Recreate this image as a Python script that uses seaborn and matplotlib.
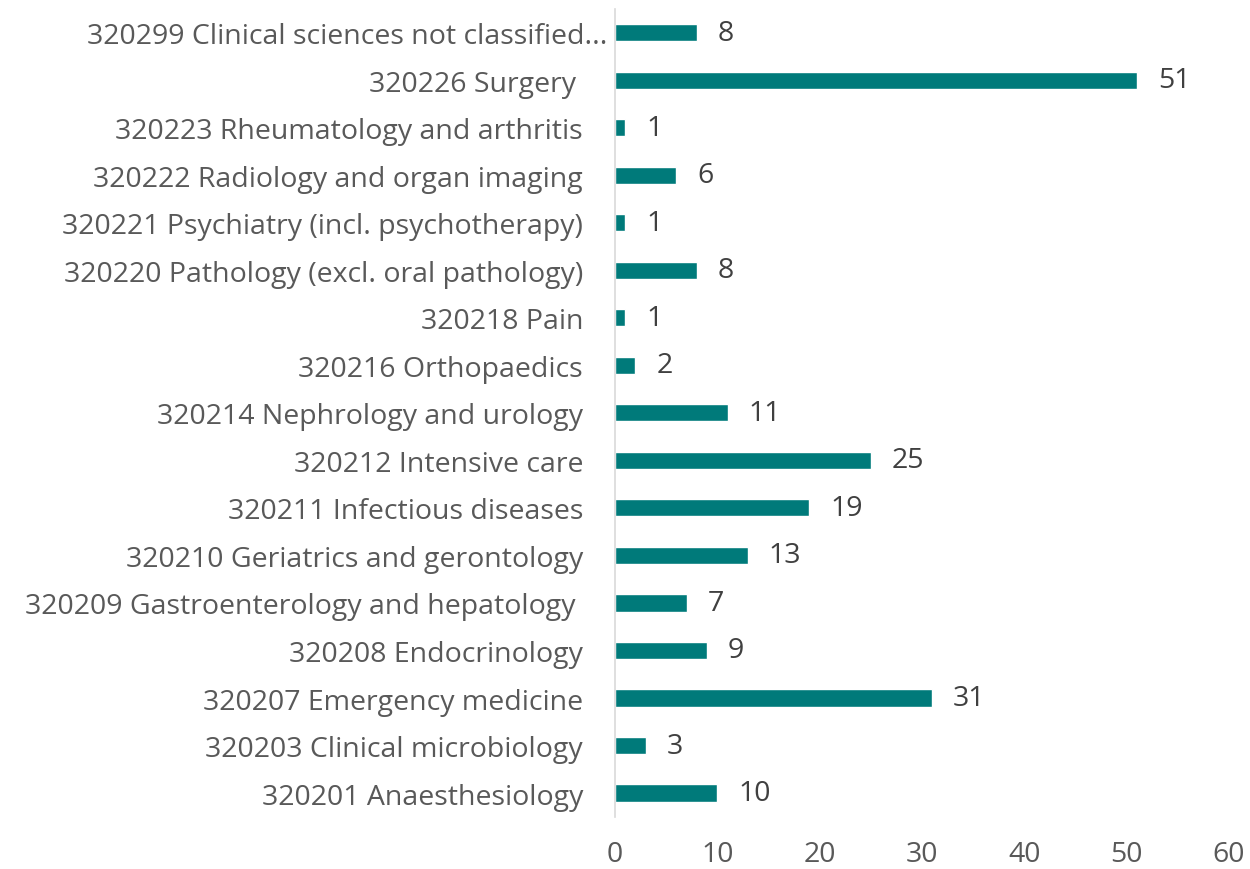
import matplotlib
matplotlib.use("Agg")
import matplotlib.pyplot as plt
import seaborn as sns
import pandas as pd
import matplotlib.transforms as mtransforms

categories = [
    "320299 Clinical sciences not classified...",
    "320226 Surgery ",
    "320223 Rheumatology and arthritis",
    "320222 Radiology and organ imaging",
    "320221 Psychiatry (incl. psychotherapy)",
    "320220 Pathology (excl. oral pathology)",
    "320218 Pain",
    "320216 Orthopaedics",
    "320214 Nephrology and urology",
    "320212 Intensive care",
    "320211 Infectious diseases",
    "320210 Geriatrics and gerontology",
    "320209 Gastroenterology and hepatology ",
    "320208 Endocrinology",
    "320207 Emergency medicine",
    "320203 Clinical microbiology",
    "320201 Anaesthesiology",
]
values = [8, 51, 1, 6, 1, 8, 1, 2, 11, 25, 19, 13, 7, 9, 31, 3, 10]
x_ticks = [0, 10, 20, 30, 40, 50, 60]

df = pd.DataFrame({"category": categories, "value": values})

sns.set_theme(style="white")
plt.rcParams["font.family"] = ["Open Sans", "DejaVu Sans"]

fig = plt.figure(figsize=(12.5, 8.7), dpi=100)
ax = fig.add_axes([0.492, 0.060, 0.4912, 0.9285])

sns.barplot(data=df, x="value", y="category", color="#007A7A", saturation=1,
            width=0.36, ax=ax, orient="h")

ax.set_xlim(0, 60)
ax.set_ylim(len(categories) - 0.5, -0.5)
ax.set_xticks(x_ticks)
ax.set_xlabel("")
ax.set_ylabel("")

fs = 20.5
text_color = "#595959"
ax.tick_params(axis="y", length=0, pad=23, labelsize=fs, labelcolor=text_color)
ax.tick_params(axis="x", length=0, pad=17, labelsize=fs, labelcolor=text_color)

for s in ["top", "right", "bottom"]:
    ax.spines[s].set_visible(False)
ax.spines["left"].set_color("#D9D9D9")
ax.spines["left"].set_linewidth(1.2)

for i, v in enumerate(values):
    ax.annotate(str(v), xy=(v, i), xytext=(15, 0), textcoords="offset points",
                va="center", ha="left", fontsize=fs, color="#404040")

# Excel's truncated first label sits closer to the axis
lbl = ax.get_yticklabels()[0]
lbl.set_transform(lbl.get_transform() + mtransforms.ScaledTranslation(24/100, 0, fig.dpi_scale_trans))

fig.savefig("out.png", dpi=100)
